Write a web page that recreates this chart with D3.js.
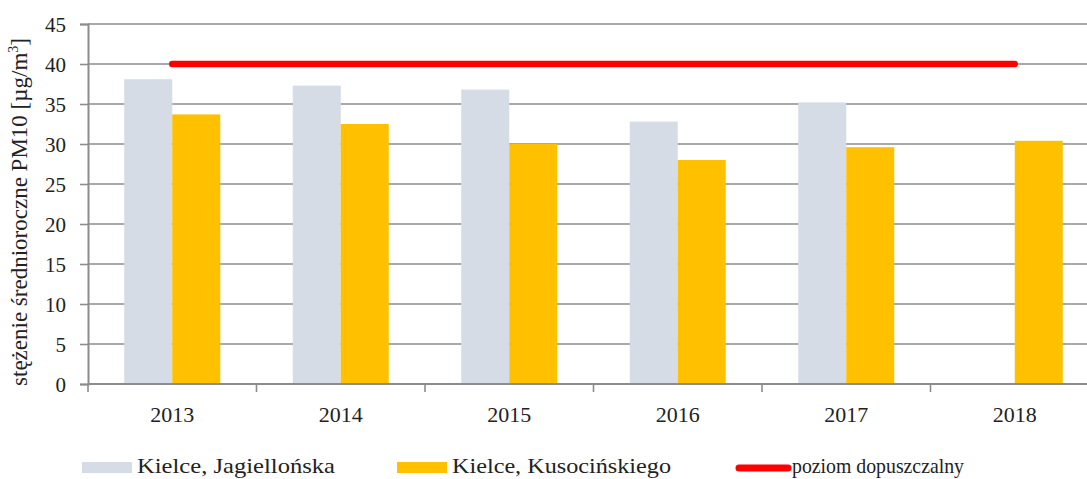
<!DOCTYPE html>
<html>
<head>
<meta charset="utf-8">
<script src="https://cdn.jsdelivr.net/npm/d3@7"></script>
<style>
html,body{margin:0;padding:0;background:#fff;overflow:hidden;}
svg{display:block;}
text{font-family:"Liberation Serif","Times New Roman",serif;fill:#222;}
</style>
</head>
<body>
<svg id="chart" width="1087" height="479"></svg>
<script>
const years = ["2013","2014","2015","2016","2017","2018"];
const jagiellonska = [38.1, 37.3, 36.8, 32.8, 35.2, null];
const kusocinskiego = [33.7, 32.5, 30.0, 28.0, 29.6, 30.4];
const limitValue = 40;
const yTicks = [0,5,10,15,20,25,30,35,40,45];
const seriesNames = ["Kielce, Jagiellońska","Kielce, Kusocińskiego","poziom dopuszczalny"];
const yLabel = "stężenie średnioroczne PM10 [µg/m";

const svg = d3.select("#chart");
const x = d3.scaleBand().domain(years).range([88, 1099]).paddingInner(0).paddingOuter(0);
const y = d3.scaleLinear().domain([0,45]).range([384, 24]);
const barW = 48;

// gridlines
svg.append("g").selectAll("line").data(yTicks.filter(d=>d>0)).join("line")
  .attr("x1",88).attr("x2",1099).attr("y1",d=>y(d)).attr("y2",d=>y(d))
  .attr("stroke","#8c8c8c").attr("stroke-width",1.6);

// bars
const g = svg.append("g");
g.selectAll("rect.j").data(years.map((yr,i)=>({yr,v:jagiellonska[i]})).filter(d=>d.v!=null)).join("rect")
  .attr("x",d=>x(d.yr)+x.bandwidth()/2-barW).attr("width",barW)
  .attr("y",d=>y(d.v)).attr("height",d=>y(0)-y(d.v)).attr("fill","#d5dce5");
g.selectAll("rect.k").data(years.map((yr,i)=>({yr,v:kusocinskiego[i]}))).join("rect")
  .attr("x",d=>x(d.yr)+x.bandwidth()/2).attr("width",barW)
  .attr("y",d=>y(d.v)).attr("height",d=>y(0)-y(d.v)).attr("fill","#ffc000");

// y axis
const yAxis = d3.axisLeft(y).tickValues(yTicks).tickSize(8).tickPadding(14);
const ya = svg.append("g").attr("transform","translate(88,0)").call(yAxis);
ya.select(".domain").attr("stroke","#8c8c8c").attr("stroke-width",2);
ya.selectAll(".tick line").attr("stroke","#8c8c8c").attr("stroke-width",1.6);
ya.selectAll(".tick text").attr("font-size",21).attr("font-family","Liberation Serif").attr("fill","#222").attr("dy","0.34em");

// x axis
const xa = svg.append("g").attr("transform","translate(0,384)")
  .call(d3.axisBottom(x).tickSize(0).tickPadding(22));
xa.select(".domain").remove();
xa.selectAll(".tick text").attr("font-size",22).attr("font-family","Liberation Serif").attr("fill","#222");
svg.append("line").attr("x1",88).attr("x2",1099).attr("y1",384).attr("y2",384)
  .attr("stroke","#8c8c8c").attr("stroke-width",2);
const bounds = years.map(d=>x(d)).concat([x(years[years.length-1])+x.bandwidth()]);
svg.append("g").selectAll("line").data(bounds).join("line")
  .attr("x1",d=>d).attr("x2",d=>d).attr("y1",384).attr("y2",392)
  .attr("stroke","#8c8c8c").attr("stroke-width",1.6);

// limit line
svg.append("line")
  .attr("x1",x(years[0])+x.bandwidth()/2).attr("x2",x(years[years.length-1])+x.bandwidth()/2)
  .attr("y1",y(limitValue)).attr("y2",y(limitValue))
  .attr("stroke","#ff0000").attr("stroke-width",6.5).attr("stroke-linecap","round");

// y label
const yl = svg.append("text").attr("transform","translate(27,212) rotate(-90)")
  .attr("text-anchor","middle").attr("font-size",23);
yl.append("tspan").text(yLabel);
yl.append("tspan").attr("font-size",14).attr("dy",-9).text("3");
yl.append("tspan").attr("dy",9).text("]");

// legend
const leg = svg.append("g");
leg.append("rect").attr("x",82).attr("y",462).attr("width",50).attr("height",11).attr("fill","#d5dce5");
leg.append("text").attr("x",137).attr("y",473).attr("font-size",21).attr("textLength",198).attr("lengthAdjust","spacingAndGlyphs").text(seriesNames[0]);
leg.append("rect").attr("x",397).attr("y",462).attr("width",50).attr("height",11).attr("fill","#ffc000");
leg.append("text").attr("x",452).attr("y",473).attr("font-size",21).attr("textLength",219).attr("lengthAdjust","spacingAndGlyphs").text(seriesNames[1]);
leg.append("line").attr("x1",739).attr("x2",788).attr("y1",468).attr("y2",468)
  .attr("stroke","#ff0000").attr("stroke-width",7).attr("stroke-linecap","round");
leg.append("text").attr("x",792).attr("y",473).attr("font-size",21).attr("textLength",172).attr("lengthAdjust","spacingAndGlyphs").text(seriesNames[2]);
</script>
</body>
</html>
